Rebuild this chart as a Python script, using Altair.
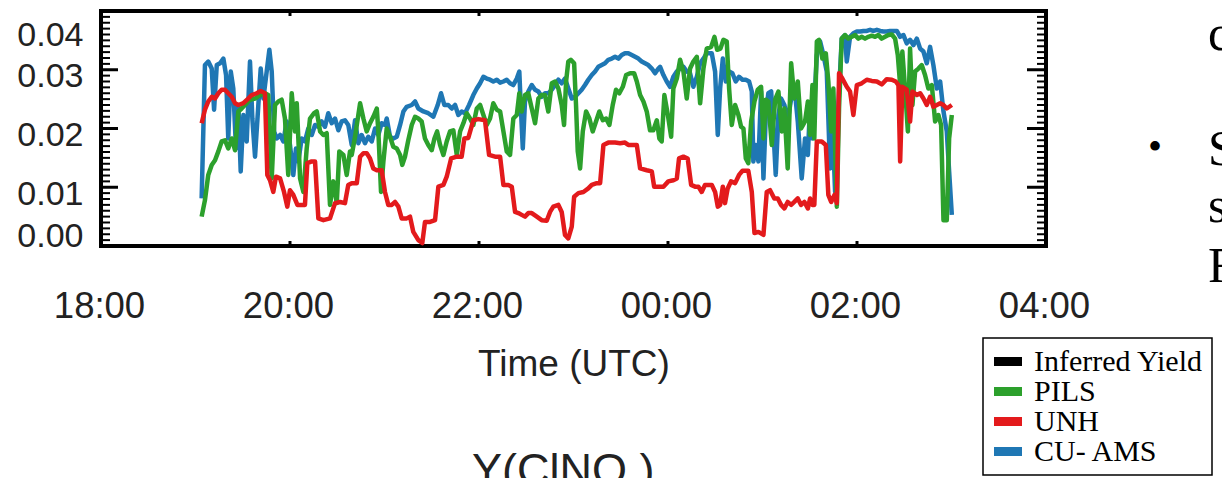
import altair as alt
import pandas as pd

# time in minutes after 18:00 UTC, value = yield
CU_AMS = [(63.9,.0081),(66.0,.0308),(68.1,.0314),(70.3,.0302),(71.8,.0232),(73.5,.0308),(75.6,.0311),(77.7,.0319),(79.4,.0291),(80.8,.0183),(82.4,.0297),(84.0,.0268),(85.7,.0166),(87.2,.024),(88.7,.0127),(90.4,.0223),(92.5,.0178),(94.6,.0314),(96.1,.0217),(97.8,.0152),(99.9,.024),(101.4,.0302),(103.1,.0251),(105.2,.0297),(106.9,.0334),(108.4,.0297),(109.9,.0195),(111.6,.0183),(113.7,.0189),(115.8,.0178),(117.9,.0212),(120.0,.0172),(122.1,.0121),(123.8,.0166),(125.3,.0144),(127.4,.0183),(129.5,.0178),(131.6,.02),(133.8,.0189),(135.9,.0206),(138.0,.0203),(140.1,.0212),(142.2,.0203),(144.3,.0226),(146.5,.0209),(148.6,.0217),(150.7,.0197),(152.8,.0212),(154.9,.0214),(157.0,.0206),(159.2,.0172),(161.3,.0214),(163.4,.0175),(165.5,.0189),(167.6,.0175),(169.7,.0186),(171.9,.0178),(174.0,.02),(176.1,.0189),(178.2,.0209),(180.3,.0206),(181.4,.0217),(183.5,.0186),(185.6,.0183),(187.8,.0186),(189.9,.0206),(192.0,.0229),(194.1,.0237),(197.3,.024),(199.4,.0246),(201.5,.0234),(204.7,.0229),(207.8,.0226),(211.0,.022),(213.8,.024),(215.9,.026),(218.0,.024),(220.5,.024),(222.7,.0234),(224.8,.024),(226.9,.0223),(229.0,.0229),(231.1,.0226),(233.7,.024),(236.4,.0257),(238.6,.0268),(240.7,.0277),(242.8,.0288),(244.9,.0285),(247.0,.0283),(249.1,.028),(251.3,.0283),(253.4,.0278),(255.5,.028),(257.6,.0283),(259.7,.0277),(261.8,.0274),(264.0,.0285),(265.6,.0297),(266.5,.024),(267.8,.0166),(269.2,.0246),(271.3,.0263),(273.5,.0274),(275.6,.0266),(277.7,.0263),(279.8,.0254),(281.9,.026),(284.0,.026),(286.2,.0266),(288.3,.0274),(290.4,.0283),(292.5,.0277),(294.6,.0285),(296.7,.0268),(298.9,.0251),(301.0,.0254),(303.1,.026),(305.2,.0266),(307.3,.0274),(309.4,.0283),(311.6,.0291),(313.7,.0297),(315.8,.0305),(317.9,.0308),(320.0,.0311),(322.1,.0317),(324.3,.0319),(326.4,.0322),(328.5,.0319),(330.6,.0325),(332.7,.0328),(334.8,.0328),(337.0,.0325),(339.1,.0322),(341.2,.0319),(343.3,.0314),(345.4,.0311),(347.5,.0308),(349.7,.0302),(351.8,.0294),(353.9,.0302),(355.0,.0305),(357.1,.0291),(359.2,.028),(361.3,.0271),(363.4,.0288),(365.6,.0297),(367.7,.0302),(369.8,.0305),(371.9,.0297),(374.0,.0294),(376.1,.0271),(378.3,.0288),(380.4,.0311),(382.5,.0319),(384.6,.0328),(387.8,.0328),(389.9,.0297),(391.6,.0189),(393.1,.0268),(394.8,.0319),(396.7,.028),(398.8,.0297),(400.9,.0294),(403.0,.028),(405.1,.0288),(407.3,.0283),(409.4,.0283),(411.5,.028),(413.2,.0263),(414.2,.0144),(415.7,.0172),(417.4,.0144),(419.1,.0263),(420.6,.0115),(422.1,.0223),(423.7,.026),(425.5,.0263),(427.2,.0183),(428.4,.0121),(430.1,.0223),(431.8,.0251),(433.9,.024),(436.0,.0212),(438.2,.0251),(440.2,.0274),(442.4,.0212),(444.9,.0115),(447.0,.0183),(448.8,.0155),(450.2,.024),(451.7,.0183),(454.5,.0325),(456.6,.0348),(458.7,.0325),(460.8,.0297),(462.9,.0132),(464.4,.0212),(466.1,.0092),(468.2,.024),(470.3,.0353),(472.4,.0359),(473.5,.0314),(475.6,.0356),(477.7,.0362),(479.9,.0365),(482.0,.0365),(484.1,.0366),(486.2,.0366),(488.3,.0368),(490.4,.0366),(492.6,.0368),(494.7,.0366),(496.8,.0365),(498.9,.0365),(501.0,.0366),(503.1,.0366),(505.3,.0366),(507.4,.0356),(509.5,.0359),(511.6,.0345),(513.7,.0351),(515.8,.0342),(518.0,.0353),(520.1,.0336),(522.2,.0331),(524.3,.0311),(526.4,.0339),(528.5,.0308),(530.7,.0268),(532.8,.028),(534.9,.0229),(537.0,.0195),(538.5,.0127),(540.2,.0053)]

PILS = [(63.9,.005),(66.0,.0078),(68.1,.0121),(70.3,.0138),(72.4,.0146),(74.5,.0161),(76.6,.0178),(78.7,.018),(80.8,.0166),(83.0,.0183),(85.1,.0163),(87.2,.0229),(89.3,.0234),(91.4,.024),(94.6,.0249),(97.8,.0251),(101.0,.0257),(104.1,.026),(106.2,.0257),(108.4,.0115),(110.5,.024),(112.6,.0246),(114.7,.0249),(116.8,.0217),(118.9,.0121),(121.1,.026),(123.2,.0195),(124.3,.0243),(126.4,.0115),(128.5,.0092),(130.6,.0166),(132.7,.0217),(135.3,.0226),(137.0,.0229),(139.1,.0195),(141.2,.0189),(143.3,.0192),(145.4,.007),(147.5,.011),(149.7,.0073),(151.3,.0161),(153.9,.0155),(156.0,.0121),(158.1,.0161),(159.2,.0155),(161.3,.0186),(164.5,.0243),(166.6,.0217),(168.7,.0195),(170.8,.0209),(172.9,.022),(175.1,.0234),(176.1,.0195),(177.8,.0092),(179.3,.0144),(181.4,.02),(183.5,.0186),(185.6,.0169),(187.8,.0166),(189.9,.0155),(191.3,.0138),(193.0,.0152),(195.1,.018),(197.3,.0206),(199.4,.022),(201.5,.0217),(203.6,.0212),(205.7,.0183),(207.8,.0172),(210.0,.0163),(211.7,.0183),(213.4,.0195),(215.3,.0172),(217.4,.0155),(219.5,.0178),(221.6,.0195),(223.7,.0197),(225.9,.0155),(228.0,.0195),(230.1,.0209),(232.2,.0226),(234.3,.0217),(236.4,.0206),(238.6,.0234),(240.7,.024),(242.8,.0223),(244.9,.0206),(247.0,.0217),(249.1,.0243),(251.3,.0232),(253.4,.0229),(255.5,.0195),(257.6,.0161),(259.7,.0155),(261.8,.0217),(264.0,.0223),(265.6,.026),(267.1,.0229),(269.2,.0257),(271.3,.026),(273.5,.0234),(275.6,.0209),(277.7,.0251),(279.8,.0257),(281.9,.0257),(284.0,.0229),(286.2,.0277),(288.3,.028),(290.4,.0268),(292.5,.024),(294.0,.0206),(295.3,.028),(296.7,.0314),(298.3,.0317),(300.4,.0311),(301.6,.024),(302.7,.0161),(304.2,.0132),(305.9,.0195),(308.0,.0229),(310.1,.0217),(312.2,.0195),(314.3,.0212),(316.4,.0229),(318.6,.0214),(320.7,.0217),(322.8,.0206),(324.9,.024),(327.0,.0266),(329.1,.026),(331.3,.0271),(333.4,.0291),(335.9,.0294),(338.5,.0294),(340.2,.028),(342.3,.0257),(344.4,.0246),(346.5,.0229),(348.6,.0197),(350.7,.0197),(352.9,.0214),(354.5,.0183),(356.0,.0178),(357.7,.0257),(359.9,.0223),(362.0,.0186),(363.4,.0268),(365.6,.0285),(367.7,.0317),(369.8,.0297),(371.9,.0251),(374.0,.0302),(376.1,.0314),(378.3,.0322),(380.4,.0243),(382.5,.0302),(384.6,.0336),(387.4,.0339),(389.5,.0356),(391.2,.0334),(393.3,.0336),(395.2,.0351),(397.3,.0348),(398.8,.0268),(400.5,.0206),(402.6,.024),(404.7,.0223),(406.4,.0203),(407.9,.02),(409.4,.0149),(411.0,.0141),(412.8,.0212),(414.9,.0246),(417.0,.0266),(419.1,.0271),(420.6,.0183),(422.1,.0249),(423.7,.0246),(425.9,.0172),(428.0,.0249),(430.1,.0263),(432.2,.0195),(433.9,.0234),(436.0,.0132),(438.2,.0311),(440.2,.0251),(442.4,.028),(444.5,.02),(447.0,.0212),(448.8,.0246),(450.2,.0189),(451.7,.0274),(452.9,.0183),(454.5,.0348),(455.9,.0351),(458.0,.0319),(460.2,.0328),(461.8,.028),(463.6,.0195),(465.0,.0268),(467.2,.0067),(468.6,.0234),(470.3,.0353),(472.4,.0359),(474.5,.0353),(476.7,.0356),(478.8,.0359),(480.9,.0353),(483.0,.0356),(485.1,.0353),(487.2,.0356),(489.4,.0358),(491.5,.0356),(493.6,.0359),(495.7,.0353),(497.8,.0356),(499.9,.0359),(502.1,.036),(504.2,.0353),(505.9,.0325),(507.4,.0274),(508.8,.0331),(510.5,.0268),(512.3,.0195),(513.7,.0336),(515.2,.024),(516.9,.0297),(519.0,.0302),(521.1,.0308),(523.2,.0291),(525.3,.0268),(527.5,.0274),(529.6,.0212),(531.7,.0223),(533.4,.0206),(534.9,.0044),(537.0,.0044),(538.5,.0183),(540.2,.0223)]

UNH = [(63.9,.0209),(66.0,.0232),(68.1,.0246),(70.3,.0254),(72.4,.0251),(74.5,.026),(76.6,.0266),(78.7,.0266),(80.8,.026),(83.0,.0254),(85.1,.0243),(87.2,.024),(90.4,.0243),(93.5,.0251),(95.7,.0257),(98.9,.026),(101.4,.0264),(104.1,.026),(105.6,.0121),(107.3,.0112),(109.4,.0092),(111.1,.0118),(113.7,.0115),(116.2,.0092),(118.3,.0067),(120.0,.0095),(122.1,.0087),(124.7,.007),(127.4,.007),(129.5,.007),(131.0,.0141),(133.8,.0144),(135.9,.0144),(138.0,.0047),(141.2,.0044),(145.4,.0047),(148.6,.0073),(151.8,.0075),(154.9,.0073),(157.0,.0104),(159.2,.0107),(162.4,.0107),(164.5,.0152),(166.6,.0158),(168.7,.0158),(170.8,.0149),(172.9,.0132),(175.1,.0129),(178.2,.0129),(180.3,.0092),(182.4,.007),(184.6,.007),(186.7,.0075),(188.8,.0067),(190.9,.0047),(194.1,.0047),(196.2,.005),(198.3,.0024),(201.5,.001),(204.0,.0005),(205.7,.0041),(208.9,.0041),(212.1,.0044),(214.2,.0101),(217.4,.0104),(219.5,.0118),(222.3,.0149),(225.9,.0152),(229.0,.0152),(230.7,.0183),(233.2,.0184),(236.4,.0214),(239.6,.0216),(243.8,.0214),(246.4,.0155),(250.2,.0152),(253.4,.0152),(255.5,.0104),(258.6,.0104),(260.8,.0101),(262.9,.0058),(265.0,.0056),(267.1,.0053),(269.2,.005),(271.3,.0056),(273.5,.0056),(276.7,.005),(279.8,.0044),(283.0,.0043),(285.1,.0058),(287.2,.0067),(290.4,.007),(292.5,.0058),(294.6,.0019),(296.7,.0013),(298.9,.0033),(300.4,.0084),(303.1,.009),(306.3,.0092),(309.4,.0098),(311.6,.0104),(314.8,.0107),(316.9,.0107),(319.0,.0172),(322.1,.0176),(326.4,.0176),(329.6,.0175),(332.7,.0176),(334.8,.0172),(338.0,.0172),(340.2,.0172),(342.3,.0132),(346.5,.0129),(349.7,.0127),(351.2,.0101),(354.5,.0101),(357.1,.0101),(360.2,.011),(363.4,.0112),(365.6,.0115),(367.0,.0149),(369.8,.0152),(372.5,.0149),(374.7,.0104),(377.2,.0101),(379.3,.0101),(381.4,.0092),(383.5,.0104),(387.8,.0104),(389.9,.0092),(391.6,.0067),(393.1,.007),(394.8,.0101),(396.2,.0073),(397.9,.0098),(400.0,.011),(402.6,.0107),(405.1,.0121),(407.3,.0128),(411.0,.0128),(413.2,.0092),(414.9,.0022),(417.4,.0024),(420.6,.0019),(422.7,.0092),(424.8,.0095),(427.5,.0081),(429.7,.0081),(431.8,.007),(433.9,.0064),(436.0,.0075),(438.2,.007),(440.2,.0075),(442.4,.0081),(444.5,.007),(446.6,.0075),(448.8,.0064),(450.2,.0081),(451.7,.007),(452.9,.007),(454.5,.0178),(457.6,.0178),(460.2,.0172),(461.8,.0087),(463.6,.0075),(465.7,.0087),(467.2,.0073),(468.6,.0294),(470.7,.0285),(473.5,.0271),(475.6,.0263),(477.7,.0223),(479.9,.0274),(483.0,.0277),(486.2,.0283),(489.4,.0281),(492.6,.028),(495.7,.0275),(498.9,.0284),(502.1,.0283),(504.6,.028),(506.3,.0274),(507.4,.0144),(508.8,.0271),(511.6,.0266),(513.7,.0212),(515.2,.0263),(518.0,.0257),(520.1,.026),(522.2,.0251),(524.3,.024),(526.4,.0254),(528.5,.0237),(530.7,.024),(532.8,.0243),(534.9,.024),(537.0,.0234),(540.2,.024)]

SERIES = ["Inferred Yield", "PILS", "UNH", "CU- AMS"]
COLORS = ["#000000", "#2ca02c", "#e31a1c", "#1f77b4"]
X_TICKS = [0, 120, 240, 360, 480, 600]          # 18:00 ... 04:00
X_INNER_TICKS = [120, 240, 360, 480]
Y_TICKS = [0.0, 0.01, 0.02, 0.03, 0.04]
Y_MAJOR = [0.01, 0.02, 0.03]
Y_MINOR = [i / 1000 for i in range(1, 40) if i % 10 != 0]

rows = []
for name, pts in [("CU- AMS", CU_AMS), ("PILS", PILS), ("UNH", UNH)]:
    for t, v in pts:
        rows.append({"series": name, "minutes": t, "value": v})
df = pd.DataFrame(rows)

W, H = 945, 235
xscale = alt.Scale(domain=[0, 600], nice=False, zero=False)
yscale = alt.Scale(domain=[0, 0.04], nice=False, zero=False)

hour = "((18 + datum.value / 60) % 24)"
x_axis = alt.Axis(
    values=X_TICKS, labelExpr=f"({hour} < 10 ? '0' : '') + {hour} + ':00'",
    title="Time (UTC)", domain=False, ticks=False, tickSize=0, grid=False,
    labelFont="Liberation Sans", labelFontSize=36.5, labelColor="#222222",
    labelPadding=71, labelBaseline="alphabetic", labelFlush=False, labelOffset=-2,
    titleFont="Liberation Sans", titleFontSize=37, titleFontWeight="normal",
    titleColor="#222222", titleY=129, titleBaseline="alphabetic")
y_axis = alt.Axis(
    values=Y_TICKS, format=".2f", title=None, domain=False, ticks=False,
    tickSize=0, grid=False, labelFont="Liberation Sans", labelFontSize=34,
    labelColor="#222222", labelPadding=18, labelFlush=True, labelOffset=7)

x_enc = alt.X("minutes:Q", scale=xscale, axis=x_axis)
y_enc = alt.Y("value:Q", scale=yscale, axis=y_axis)
color_enc = alt.Color("series:N", scale=alt.Scale(domain=SERIES, range=COLORS),
    legend=alt.Legend(title=None, orient="none", legendX=882, legendY=327,
                      symbolType="M-1,-0.095H1V0.095H-1Z", symbolSize=441,
                      symbolStrokeWidth=7,
                      labelFont="Liberation Serif", labelFontSize=30,
                      labelColor="black", rowPadding=0, padding=8.5,
                      strokeColor="black", fillColor="white",
                      symbolOffset=1.5, labelOffset=11, labelLimit=400))

def line(name):
    return alt.Chart(df).transform_filter(alt.datum.series == name).mark_line(
        strokeWidth=4.5, strokeJoin="round").encode(x=x_enc, y=y_enc, color=color_enc)

def yticks(vals, x0, x1, sw):
    return alt.Chart(pd.DataFrame({"v": vals})).mark_rule(color="black", strokeWidth=sw).encode(
        y=alt.Y("v:Q", scale=yscale, axis=y_axis), x=alt.value(x0), x2=alt.value(x1))

def xticks(y0, y1):
    return alt.Chart(pd.DataFrame({"m": X_INNER_TICKS})).mark_rule(color="black", strokeWidth=3).encode(
        x=alt.X("m:Q", scale=xscale, axis=x_axis), y=alt.value(y0), y2=alt.value(y1))

def note(txt, x, y, size, font, align="left", color="black"):
    return alt.Chart(pd.DataFrame({"label": [txt]})).mark_text(
        font=font, fontSize=size, align=align, baseline="alphabetic", color=color).encode(
        x=alt.value(x), y=alt.value(y), text="label:N")

layers = [
    line("CU- AMS"), line("PILS"), line("UNH"),
    yticks(Y_MINOR, 0, 9, 2), yticks(Y_MAJOR, 0, 17, 3),
    yticks(Y_MINOR, W - 9, W, 2), yticks(Y_MAJOR, W - 19, W, 3),
    xticks(0, 5), xticks(H - 5, H),
    note("c", 1107, 39, 50, "Liberation Serif"),
    note("•", 1054, 149, 40, "Liberation Serif", align="center"),
    note("S", 1107, 154, 50, "Liberation Serif"),
    note("s", 1107, 211, 50, "Liberation Serif"),
    note("F", 1107, 271, 50, "Liberation Serif"),
    note("Y(ClNO )", 371, 473.5, 45, "Liberation Sans", color="#222222"),
]

chart = alt.layer(*layers).properties(
    width=W, height=H,
    padding={"left": 101, "top": 11, "right": 1222 - 101 - W, "bottom": 478 - 11 - H},
    autosize=alt.AutoSizeParams(type="none"),
    background="white",
).configure_view(stroke="black", strokeWidth=4).configure_legend(strokeWidth=1.5)

chart.save("out.html", embed_options={"renderer": "svg", "actions": False})
